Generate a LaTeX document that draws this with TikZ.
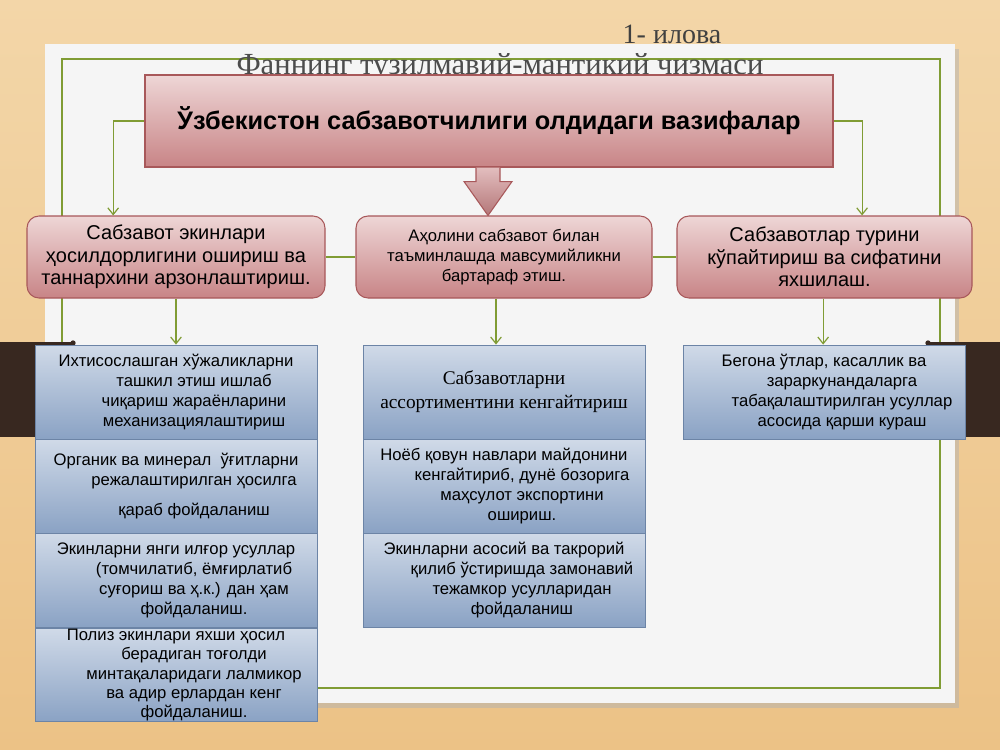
\documentclass[tikz,border=0pt]{standalone}
\usepackage{fontspec}
\setmainfont{Liberation Serif}
\setsansfont{Liberation Sans}
\definecolor{bgtan}{RGB}{236, 194, 134}
\definecolor{bgtanlight}{RGB}{243, 214, 168}
\definecolor{panelgray}{RGB}{245, 245, 245}
\definecolor{framegreen}{RGB}{128, 156, 52}
\definecolor{barbrown}{RGB}{56, 40, 32}
\definecolor{pinktop}{RGB}{238, 214, 214}
\definecolor{pinkbot}{RGB}{200, 132, 134}
\definecolor{pinkline}{RGB}{168, 88, 90}
\definecolor{bluetop}{RGB}{208, 218, 232}
\definecolor{bluebot}{RGB}{138, 162, 196}
\definecolor{blueline}{RGB}{108, 132, 166}
\usetikzlibrary{arrows.meta, calc}

\tikzset{
  taskbox/.style={top color=pinktop, bottom color=pinkbot, draw=pinkline, line width=0.8pt,
    minimum width=516pt, minimum height=69pt, font=\sffamily\bfseries\fontsize{19}{21}\selectfont},
  goalbox/.style={rounded corners=9pt, top color=pinktop, bottom color=pinkbot, draw=pinkline,
    line width=0.8pt, minimum height=61.5pt, inner sep=2pt, align=center,
    font=\sffamily\fontsize{15}{16.8}\selectfont},
  wayblock/.style={top color=bluetop, bottom color=bluebot, draw=blueline, line width=0.6pt,
    minimum width=211.5pt, minimum height=70.5pt, inner xsep=2pt, inner ysep=0pt, align=center,
    font=\sffamily\fontsize{12.5}{15}\selectfont},
  link/.style={framegreen, line width=0.9pt},
  linkarrow/.style={link, -{Straight Barb[length=5pt, width=8pt]}}
}
\newcommand{\hang}{\hspace*{27pt}}

\begin{document}
\begin{tikzpicture}[x=0.75pt, y=-0.75pt]
  % Slide background
  \shade[top color=bgtanlight, bottom color=bgtan] (0,0) rectangle (1000,750);
  \useasboundingbox (0,0) rectangle (1000,750);
  \fill[black!30, opacity=0.5] (49,49) rectangle (959,708);
  \fill[panelgray] (45,44) rectangle (955,703);
  \draw[framegreen, line width=1.5pt] (62,59) rectangle (940,688);
  \fill[barbrown] (0,342) rectangle (73,437);
  \fill[barbrown] (928,342) rectangle (1000,437);
  \fill[barbrown] (73,343) circle (2pt);
  \fill[barbrown] (928,343) circle (2pt);

  % Headings
  \node[anchor=base, font=\fontsize{21}{24}\selectfont, text=black!75] (appx) at (672,43) {1- илова};
  \node[anchor=base, font=\fontsize{23}{27}\selectfont, text=black!70] (heading) at (500,74) {Фаннинг тузилмавий-мантиқий чизмаси};

  % Main task
  \node[taskbox] (task) at (489,121) {Ўзбекистон сабзавотчилиги олдидаги вазифалар};
  \path[top color=pinktop!70!pinkbot, bottom color=pinkbot!90!black]
    ($(task.south)+(-13,0)$) -- ($(task.south)+(-13,14)$) -- ($(task.south)+(-25,14)$)
    -- ($(task.south)+(-1,48)$) -- ($(task.south)+(23,14)$) -- ($(task.south)+(11,14)$)
    -- ($(task.south)+(11,0)$) -- cycle;
  \draw[pinkline, line width=0.8pt]
    ($(task.south)+(-13,0)$) -- ($(task.south)+(-13,14)$) -- ($(task.south)+(-25,14)$)
    -- ($(task.south)+(-1,48)$) -- ($(task.south)+(23,14)$) -- ($(task.south)+(11,14)$)
    -- ($(task.south)+(11,0)$);

  % Goals
  \node[goalbox, minimum width=223.5pt] (goalA) at (176,257) {Сабзавот экинлари\\ҳосилдорлигини ошириш ва\\таннархини арзонлаштириш.};
  \node[goalbox, minimum width=222pt, font=\sffamily\fontsize{12.5}{15}\selectfont] (goalB) at (504,257) {Аҳолини сабзавот билан\\таъминлашда мавсумийликни\\бартараф этиш.};
  \node[goalbox, minimum width=221.25pt] (goalC) at (824.5,257) {Сабзавотлар турини\\кўпайтириш ва сифатини\\яхшилаш.};

  % Ways, left column
  \node[wayblock] (a1) at (176,392) {Ихтисослашган хўжаликларни\\\hang ташкил этиш ишлаб\\\hang чиқариш жараёнларини\\\hang механизациялаштириш};
  \node[wayblock] (a2) at (176,486) {Органик ва минерал\ \ ўғитларни\\\hang режалаштирилган ҳосилга\\[7pt]\hang қараб фойдаланиш};
  \node[wayblock] (a3) at (176,580) {Экинларни янги илғор усуллар\\\hang (томчилатиб, ёмғирлатиб\\\hang суғориш ва ҳ.к.) дан ҳам\\\hang фойдаланиш.};
  \node[wayblock, minimum height=69.75pt, font=\sffamily\fontsize{12.5}{14.6}\selectfont] (a4) at (176,675) {Полиз экинлари яхши ҳосил\\\hang берадиган тоғолди\\\hang минтақаларидаги лалмикор\\\hang ва адир ерлардан кенг\\\hang фойдаланиш.};

  % Ways, middle column
  \node[wayblock, font=\rmfamily\fontsize{14.5}{18}\selectfont] (b1) at (504,392) {Сабзавотларни\\ассортиментини кенгайтириш};
  \node[wayblock] (b2) at (504,486) {Ноёб қовун навлари майдонини\\\hang кенгайтириб, дунё бозорига\\\hang маҳсулот экспортини\\\hang ошириш.};
  \node[wayblock] (b3) at (504,580) {Экинларни асосий ва такрорий\\\hang қилиб ўстиришда замонавий\\\hang тежамкор усулларидан\\\hang фойдаланиш};

  % Ways, right column
  \node[wayblock] (c1) at (824,392) {Бегона ўтлар, касаллик ва\\\hang зараркунандаларга\\\hang табақалаштирилган усуллар\\\hang асосида қарши кураш};

  % Connectors
  \draw[linkarrow] (task.west) -| ($(goalA.north west)!0.29!(goalA.north east)$);
  \draw[linkarrow] (task.east) -| ($(goalC.north west)!0.627!(goalC.north east)$);
  \draw[link] (goalA.east) -- (goalB.west);
  \draw[link] (goalB.east) -- (goalC.west);
  \draw[linkarrow] (goalA) -- (a1);
  \draw[linkarrow] ([xshift=-6pt]goalB.south) -- ([xshift=-6pt]b1.north);
  \draw[linkarrow] ([xshift=-1pt]goalC.south) -- ([xshift=-1pt]goalC.south |- c1.north);
\end{tikzpicture}
\end{document}
